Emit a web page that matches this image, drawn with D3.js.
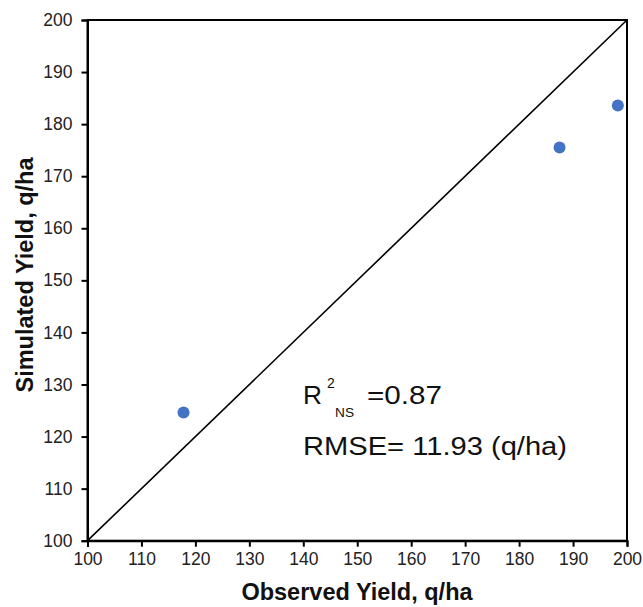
<!DOCTYPE html>
<html><head><meta charset="utf-8">
<script src="https://cdn.jsdelivr.net/npm/d3@7"></script>
<style>body{margin:0;background:#fff}svg{display:block}text{font-family:"Liberation Sans",Arial,sans-serif}</style>
</head><body>
<svg id="c" width="643" height="607"></svg>
<script>
const observed = [117.8, 187.5, 198.3];
const simulated = [124.6, 175.5, 183.6];
const ticks = [100,110,120,130,140,150,160,170,180,190,200];
const xTitle = "Observed Yield, q/ha";
const yTitle = "Simulated Yield, q/ha";
const r2Value = "=0.87";
const rmseText = "RMSE= 11.93 (q/ha)";

const svg = d3.select("#c");
const m = {l:87.5, t:20, r:627, b:540.7};
const x = d3.scaleLinear().domain([100,200]).range([m.l, m.r]);
const y = d3.scaleLinear().domain([100,200]).range([m.b, m.t]);

svg.append("rect").attr("x",m.l).attr("y",m.t).attr("width",m.r-m.l).attr("height",m.b-m.t)
  .attr("fill","none").attr("stroke","#000").attr("stroke-width",2);

const xa = svg.append("g").attr("transform",`translate(0,${m.b})`)
  .call(d3.axisBottom(x).tickValues(ticks).tickSize(6).tickPadding(6));
const ya = svg.append("g").attr("transform",`translate(${m.l},0)`)
  .call(d3.axisLeft(y).tickValues(ticks).tickSize(6).tickPadding(9));
[xa,ya].forEach(a=>{
  a.select(".domain").attr("stroke","#000").attr("stroke-width",2);
  a.selectAll(".tick line").attr("stroke","#000").attr("stroke-width",2);
  a.selectAll(".tick text").attr("font-size",17.5).attr("fill","#222")
   .style("font-family",'"Liberation Sans",Arial,sans-serif');
});

svg.append("line").attr("x1",x(100)).attr("y1",y(100)).attr("x2",x(200)).attr("y2",y(200))
  .attr("stroke","#000").attr("stroke-width",1.6);

svg.selectAll("circle.pt").data(observed.map((o,i)=>[o,simulated[i]])).join("circle")
  .attr("class","pt").attr("cx",d=>x(d[0])).attr("cy",d=>y(d[1])).attr("r",6)
  .attr("fill","#4472C4");

svg.append("text").attr("x",357).attr("y",600).attr("text-anchor","middle")
  .attr("font-size",23.5).attr("font-weight","bold").attr("fill","#111").text(xTitle);
svg.append("text").attr("transform","translate(33,275) rotate(-90)").attr("text-anchor","middle")
  .attr("font-size",23.5).attr("font-weight","bold").attr("fill","#111").text(yTitle);

svg.append("text").attr("x",303).attr("y",404).attr("font-size",26).attr("fill","#111")
  .attr("textLength",19).attr("lengthAdjust","spacingAndGlyphs").text("R");
svg.append("text").attr("x",327).attr("y",388).attr("font-size",14).attr("fill","#111").text("2");
svg.append("text").attr("x",335).attr("y",417).attr("font-size",12).attr("fill","#111")
  .attr("textLength",19).attr("lengthAdjust","spacingAndGlyphs").text("NS");
svg.append("text").attr("x",367).attr("y",404).attr("font-size",26).attr("fill","#111")
  .attr("textLength",75).attr("lengthAdjust","spacingAndGlyphs").text(r2Value);
svg.append("text").attr("x",303).attr("y",455).attr("font-size",25.5).attr("fill","#111")
  .attr("textLength",264).attr("lengthAdjust","spacingAndGlyphs").text(rmseText);
</script>
</body></html>
